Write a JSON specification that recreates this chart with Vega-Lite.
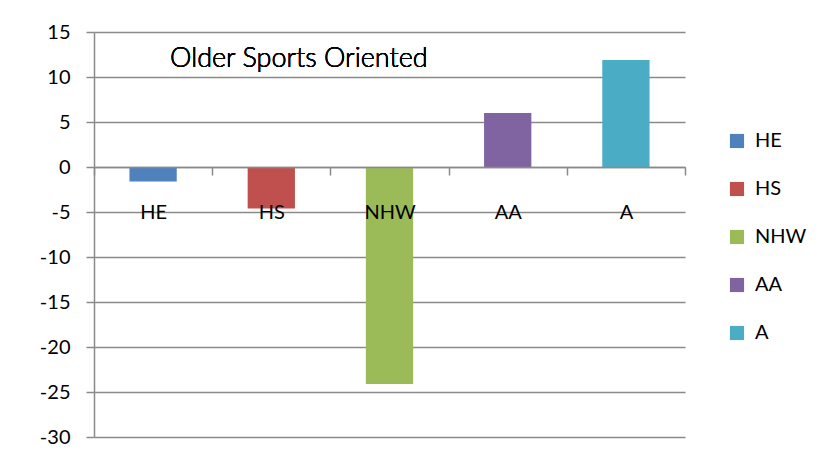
{
  "$schema": "https://vega.github.io/schema/vega-lite/v6.json",
  "width": 591,
  "height": 405,
  "autosize": {"type": "none"},
  "padding": {"left": 94, "top": 32, "right": 145, "bottom": 29},
  "background": "white",
  "data": {
    "values": [
      {"group": "HE", "value": -1.6},
      {"group": "HS", "value": -4.6},
      {"group": "NHW", "value": -24.1},
      {"group": "AA", "value": 6.0},
      {"group": "A", "value": 11.9}
    ]
  },
  "layer": [
    {
      "mark": {"type": "bar", "width": {"band": 0.4}},
      "encoding": {
        "x": {
          "field": "group",
          "type": "nominal",
          "sort": ["HE", "HS", "NHW", "AA", "A"],
          "scale": {"paddingInner": 0, "paddingOuter": 0},
          "axis": {
            "title": null,
            "offset": -270,
            "zindex": 1,
            "tickBand": "extent",
            "labelAngle": 0,
            "labelFont": "Lato",
            "labelFontSize": 20,
            "labelColor": "black",
            "labelBaseline": "middle",
            "labelPadding": 37,
            "domainColor": "#8a8a8a",
            "domainWidth": 1.5,
            "tickColor": "#8a8a8a",
            "tickWidth": 1.5,
            "tickSize": 8,
            "grid": false
          }
        },
        "y": {
          "field": "value",
          "type": "quantitative",
          "scale": {"domain": [-30, 15], "nice": false, "zero": false},
          "axis": {
            "title": null,
            "values": [-30, -25, -20, -15, -10, -5, 0, 5, 10, 15],
            "labelExpr": "'' + datum.value",
            "labelFont": "Lato",
            "labelFontSize": 20,
            "labelColor": "black",
            "labelPadding": 16,
            "domainColor": "#8a8a8a",
            "domainWidth": 1.5,
            "tickColor": "#8a8a8a",
            "tickWidth": 1.5,
            "tickSize": 8,
            "grid": true,
            "gridColor": "#8a8a8a",
            "gridWidth": 1.5
          }
        },
        "color": {
          "field": "group",
          "type": "nominal",
          "sort": ["HE", "HS", "NHW", "AA", "A"],
          "scale": {
            "domain": ["HE", "HS", "NHW", "AA", "A"],
            "range": ["#4F81BD", "#C0504D", "#9BBB59", "#8064A2", "#4BACC6"]
          },
          "legend": {
            "title": null,
            "orient": "none",
            "legendX": 633,
            "legendY": 99,
            "padding": 0,
            "symbolType": "square",
            "symbolSize": 200,
            "symbolStrokeWidth": 0,
            "labelFont": "Lato",
            "labelFontSize": 20,
            "labelColor": "black",
            "labelOffset": 8,
            "rowPadding": 28
          }
        }
      }
    },
    {
      "mark": {
        "type": "text",
        "text": "Older Sports Oriented",
        "align": "left",
        "baseline": "alphabetic",
        "dx": 17,
        "font": "Lato",
        "fontSize": 27,
        "fontWeight": 300,
        "fill": "black",
        "strokeWidth": 0
      },
      "encoding": {
        "x": {"datum": "HE", "type": "nominal"},
        "y": {"datum": 11.1, "type": "quantitative"}
      }
    }
  ],
  "config": {
    "view": {"stroke": null}
  }
}
